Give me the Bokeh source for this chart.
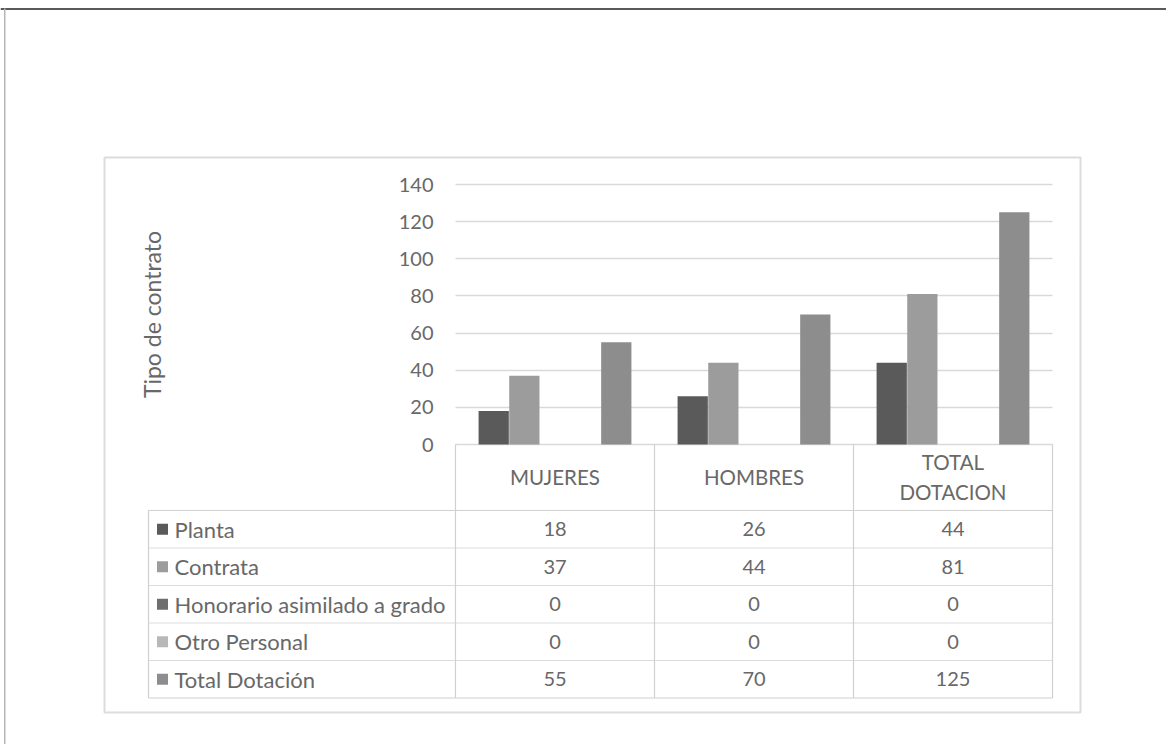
from bokeh.plotting import figure
from bokeh.models import Range1d, FixedTicker, ColumnDataSource
from bokeh.embed import file_html
from bokeh.resources import INLINE
from bokeh.core.properties import value

# ---------------- data ----------------
categories = ["MUJERES", "HOMBRES", "TOTAL DOTACION"]
header_labels = ["MUJERES", "HOMBRES", "TOTAL\nDOTACION"]
series_names = ["Planta", "Contrata", "Honorario asimilado a grado", "Otro Personal", "Total Dotación"]
planta = [18, 26, 44]
contrata = [37, 44, 81]
honorario = [0, 0, 0]
otro = [0, 0, 0]
total = [55, 70, 125]
y_ticks = [0, 20, 40, 60, 80, 100, 120, 140]
y_title = "Tipo de contrato"

series_values = [planta, contrata, honorario, otro, total]
series_colors = ["#5a5a5a", "#9c9c9c", "#6e6e6e", "#b8b8b8", "#8d8d8d"]

# ---------------- layout (page pixels) ----------------
W, H = 1166, 744
PAGE = 0
PLOT_L, PLOT_R, PLOT_T, PLOT_B = 455, 1052, 184, 444
CAT_W = (PLOT_R - PLOT_L) / len(categories)
Y_MAX = 140
PX_PER_VAL = (PLOT_B - PLOT_T) / Y_MAX
ROWS_TOP = 510
ROW_H = 37.5
TABLE_L = 148
BORDER_L, BORDER_R, BORDER_T, BORDER_B = 104, 1080, 157, 712

FONT = "Lato"
TXT = "#686868"
GRID = "#d9d9d9"
BORDER = "#dcdcdc"
LINE = "#d0d0d0"


def xa(px):
    return (px - PLOT_L) / CAT_W


def ya(py):
    return (PLOT_B - py) / PX_PER_VAL


p = figure(width=W, height=H, x_range=Range1d(xa(PAGE), xa(PAGE + W)), y_range=Range1d(ya(PAGE + H), ya(PAGE)),
           output_backend="svg", toolbar_location=None, x_axis_location=None, min_border=0)
p.outline_line_color = None
p.xgrid.visible = False
p.ygrid.ticker = FixedTicker(ticks=y_ticks)
p.ygrid.grid_line_color = GRID
p.ygrid.grid_line_width = 1.5
p.ygrid.cross_bounds = (0, len(categories))

ax = p.yaxis[0]
ax.fixed_location = 0
ax.bounds = (0, Y_MAX)
ax.ticker = FixedTicker(ticks=y_ticks)
ax.axis_line_color = None
ax.major_tick_line_color = None
ax.minor_tick_line_color = None
ax.major_tick_out = 0
ax.major_tick_in = 0
ax.major_label_standoff = 22
ax.major_label_text_font = FONT
ax.major_label_text_font_size = "20px"
ax.major_label_text_color = TXT
ax.axis_label = y_title
ax.axis_label_text_font = FONT
ax.axis_label_text_font_size = "23px"
ax.axis_label_text_font_style = "normal"
ax.axis_label_text_color = TXT
ax.axis_label_standoff = 230

# page frame lines
p.quad(left=[xa(0)], right=[xa(PAGE + W)], top=[ya(7.5)], bottom=[ya(9.5)], fill_color="#5a5a5a", line_color=None)
p.quad(left=[xa(3.5)], right=[xa(5)], top=[ya(8)], bottom=[ya(PAGE + H)], fill_color="#b5b5b5", line_color=None)
# chart border
p.quad(left=[xa(BORDER_L)], right=[xa(BORDER_R)], top=[ya(BORDER_T)], bottom=[ya(BORDER_B)],
       fill_color=None, line_color=BORDER, line_width=2)

# bars
n = len(series_names)
bar_w = 0.152
offsets = [(k - (n - 1) / 2) * 0.154 for k in range(n)]
for k, (name, vals, col) in enumerate(zip(series_names, series_values, series_colors)):
    src = ColumnDataSource(dict(x=[i + 0.5 + offsets[k] for i in range(len(categories))], top=vals))
    p.vbar(x="x", top="top", bottom=0, width=bar_w, source=src, fill_color=col, line_color=None)

# ---------------- data table ----------------
n_rows = len(series_names)
rb = [ya(ROWS_TOP + r * ROW_H) for r in range(n_rows + 1)]
rc = [ya(ROWS_TOP + (r + 0.5) * ROW_H) for r in range(n_rows)]
outer = [rb[0], rb[-1]]
inner = rb[1:-1]
p.segment(x0=[xa(TABLE_L)] * 2, x1=[len(categories)] * 2, y0=outer, y1=outer, line_color=LINE, line_width=1.2)
p.segment(x0=[xa(TABLE_L)] * len(inner), x1=[len(categories)] * len(inner), y0=inner, y1=inner,
          line_color="#b8b8b8", line_width=1, line_dash="1 1")
vx = list(range(len(categories) + 1))
p.segment(x0=vx, x1=vx, y0=[0] * len(vx), y1=[rb[-1]] * len(vx), line_color=LINE, line_width=1.2)
p.segment(x0=[xa(TABLE_L)], x1=[xa(TABLE_L)], y0=[rb[0]], y1=[rb[-1]], line_color=LINE, line_width=1.2)

# header
p.text(x=[i + 0.5 for i in range(len(categories))], y=[ya(476)] * len(categories), text=header_labels,
       text_font=value(FONT), text_font_size=value("20.5px"), text_color=TXT, text_align="center",
       text_baseline="middle", text_line_height=1.25)

# cells
cx, cy, ct = [], [], []
for r, vals in enumerate(series_values):
    for i, v in enumerate(vals):
        cx.append(i + 0.5)
        cy.append(rc[r])
        ct.append(str(v))
p.text(x=cx, y=cy, text=ct, text_font=value(FONT), text_font_size=value("20px"), text_color=TXT,
       text_align="center", text_baseline="middle")

# row labels with legend keys
p.scatter(x=[xa(162)] * n_rows, y=rc, marker="square", size=11, fill_color=series_colors, line_color=None)
p.text(x=[xa(174)] * n_rows, y=rc, text=series_names, text_font=value(FONT), text_font_size=value("22px"),
       text_color=TXT, text_align="left", text_baseline="middle")

open("out.html", "w").write(file_html(p, INLINE))
